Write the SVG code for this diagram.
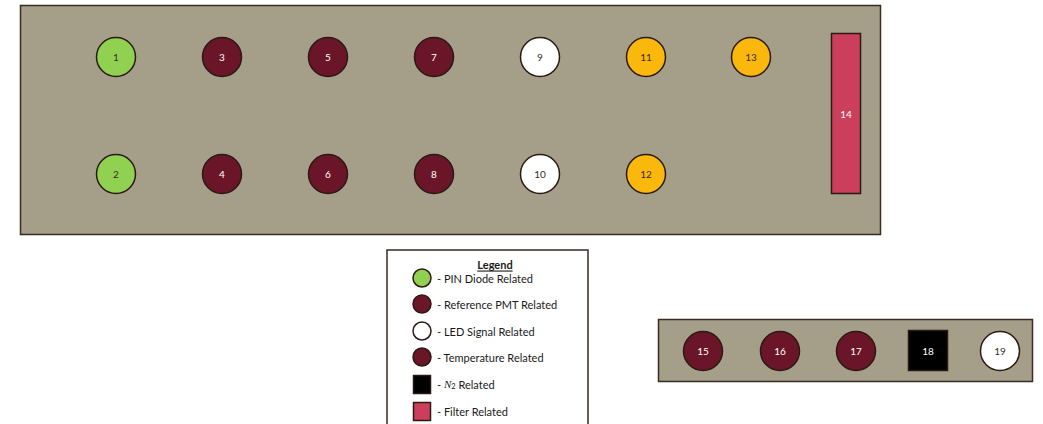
<svg xmlns="http://www.w3.org/2000/svg" width="1043" height="424" viewBox="0 0 1043 424">
<style>
.panel{fill:#a59e88;stroke:#3a2a24;stroke-width:1.5}
.c{stroke:#2b1a14;stroke-width:1.5}
.g{fill:#91d151}
.m{fill:#6b1528}
.w{fill:#ffffff}
.o{fill:#fab80c}
.p{fill:#cc3f5c}
.b{fill:#000000}
text{font-family:Lato,"Open Sans","DejaVu Sans",sans-serif;font-size:10px;text-anchor:middle;dominant-baseline:central}
.tl{fill:#ffffff}
.td{fill:#3a2a24}
.lg{text-anchor:start;font-size:11px;fill:#1a1a1a}
</style>
<rect width="1043" height="424" fill="#ffffff"/>
<rect class="panel" x="20.5" y="5.5" width="860" height="229"/>
<rect class="panel" x="658.5" y="319.5" width="374" height="62"/>
<g id="n1"><circle class="c g" cx="116" cy="57" r="19.5"/><text class="td" x="116" y="57">1</text></g>
<g id="n2"><circle class="c g" cx="116" cy="174" r="19.5"/><text class="td" x="116" y="174">2</text></g>
<g id="n3"><circle class="c m" cx="222" cy="57" r="19.5"/><text class="tl" x="222" y="57">3</text></g>
<g id="n4"><circle class="c m" cx="222" cy="174" r="19.5"/><text class="tl" x="222" y="174">4</text></g>
<g id="n5"><circle class="c m" cx="328" cy="57" r="19.5"/><text class="tl" x="328" y="57">5</text></g>
<g id="n6"><circle class="c m" cx="328" cy="174" r="19.5"/><text class="tl" x="328" y="174">6</text></g>
<g id="n7"><circle class="c m" cx="434" cy="57" r="19.5"/><text class="tl" x="434" y="57">7</text></g>
<g id="n8"><circle class="c m" cx="434" cy="174" r="19.5"/><text class="tl" x="434" y="174">8</text></g>
<g id="n9"><circle class="c w" cx="540" cy="57" r="19.5"/><text class="td" x="540" y="57">9</text></g>
<g id="n10"><circle class="c w" cx="540" cy="174" r="19.5"/><text class="td" x="540" y="174">10</text></g>
<g id="n11"><circle class="c o" cx="646" cy="57" r="19.5"/><text class="td" x="646" y="57">11</text></g>
<g id="n12"><circle class="c o" cx="646" cy="174" r="19.5"/><text class="td" x="646" y="174">12</text></g>
<g id="n13"><circle class="c o" cx="751" cy="57" r="19.5"/><text class="td" x="751" y="57">13</text></g>
<g id="n14"><rect class="c p" x="831.5" y="33.5" width="29" height="160"/><text class="tl" x="846" y="114">14</text></g>
<g id="n15"><circle class="c m" cx="703" cy="351" r="19.5"/><text class="tl" x="703" y="351">15</text></g>
<g id="n16"><circle class="c m" cx="780" cy="351" r="19.5"/><text class="tl" x="780" y="351">16</text></g>
<g id="n17"><circle class="c m" cx="856" cy="351" r="19.5"/><text class="tl" x="856" y="351">17</text></g>
<g id="n18"><rect class="c b" x="908.5" y="330.5" width="39" height="40"/><text class="tl" x="928" y="351">18</text></g>
<g id="n19"><circle class="c w" cx="1000" cy="351" r="19.5"/><text class="td" x="1000" y="351">19</text></g>
<g id="connectors"></g>
<g id="legend">
<rect x="387" y="250" width="201" height="180" fill="#ffffff" stroke="#3a2a24" stroke-width="1.5"/>
<text x="495" y="264" style="font-weight:bold;font-size:11px;text-decoration:underline" fill="#1a1a1a">Legend</text>
<circle class="c g" cx="422" cy="278" r="9"/><text class="lg" x="437" y="278">- PIN Diode Related</text>
<circle class="c m" cx="422" cy="304" r="9"/><text class="lg" x="437" y="304">- Reference PMT Related</text>
<circle class="c w" cx="422" cy="331" r="9"/><text class="lg" x="437" y="331">- LED Signal Related</text>
<circle class="c m" cx="422" cy="357" r="9"/><text class="lg" x="437" y="357">- Temperature Related</text>
<rect class="c b" x="413.5" y="375.5" width="17" height="18"/><text class="lg" x="437" y="384">- <tspan font-style="italic" font-family="Liberation Serif,serif">N</tspan><tspan font-size="7.5" dy="2">2</tspan><tspan dy="-2"> Related</tspan></text>
<rect class="c p" x="413.5" y="402.5" width="17" height="18"/><text class="lg" x="437" y="411">- Filter Related</text>
</g>
</svg>
